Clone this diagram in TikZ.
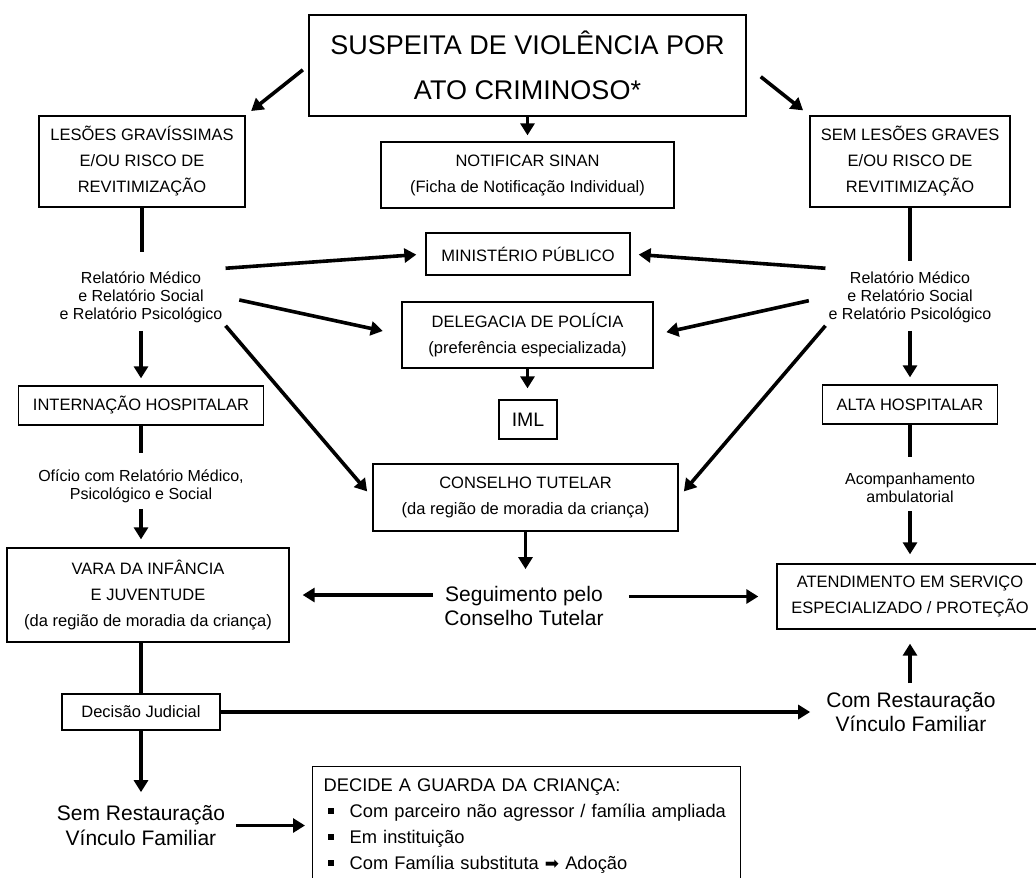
\documentclass[tikz,border=0pt]{standalone}
\usepackage{fontspec}
\setmainfont{Liberation Sans}
\newfontfamily\dejavu{DejaVu Sans}
\usepackage{tikz}
\usetikzlibrary{arrows.meta}
\newcommand{\boxfont}{\fontsize{16.5}{26}\selectfont}
\newcommand{\relfont}{\fontsize{16}{18}\selectfont}
\newcommand{\bigfont}{\fontsize{21}{24}\selectfont}
\newcommand{\sqbullet}{\hspace*{4pt}\raisebox{3.5pt}{\rule{6pt}{6pt}}\hspace{16pt}}
\tikzstyle{box}=[draw, line width=1.3pt, inner sep=0pt, align=center, font=\boxfont]
\tikzstyle{lbl}=[inner sep=3pt, align=center]
\tikzstyle{arr}=[line width=3.6pt, -{Triangle[length=12pt,width=14pt]}]
\tikzstyle{bar}=[line width=3.6pt]

\begin{document}
\begin{tikzpicture}
        [x=1pt,y=-1pt]
            \useasboundingbox (0,0) rectangle (1036,878);
            \clip (0,0) rectangle (1036,878);
            \node[box, minimum width=437pt, minimum height=101pt, font=\fontsize{27}{45}\selectfont] (susp) at (527.5,65.5) {SUSPEITA DE VIOLÊNCIA POR\\ATO CRIMINOSO*};
            \node[box, minimum width=206pt, minimum height=91pt] (grav) at (142,161.5) {LESÕES GRAVÍSSIMAS\\E/OU RISCO DE\\REVITIMIZAÇÃO};
            \node[box, minimum width=293pt, minimum height=66pt] (sinan) at (527.5,175) {NOTIFICAR SINAN\\(Ficha de Notificação Individual)};
            \node[box, minimum width=200pt, minimum height=91pt] (leve) at (910,161.5) {SEM LESÕES GRAVES\\E/OU RISCO DE\\REVITIMIZAÇÃO};
            \node[box, minimum width=204pt, minimum height=42pt] (mp) at (528,254) {MINISTÉRIO PÚBLICO};
            \node[box, minimum width=251pt, minimum height=66pt] (deleg) at (527.5,335) {DELEGACIA DE POLÍCIA\\(preferência especializada)};
            \node[box, minimum width=58pt, minimum height=39pt, font=\fontsize{19.5}{20}\selectfont] (iml) at (528,419.5) {IML};
            \node[box, minimum width=305pt, minimum height=67pt] (ct) at (525.5,497.5) {CONSELHO TUTELAR\\(da região de moradia da criança)};
            \node[lbl, font=\relfont] (relesq) at (141,297) {Relatório Médico\\e Relatório Social\\e Relatório Psicológico};
            \node[lbl, font=\relfont] (reldir) at (910,297) {Relatório Médico\\e Relatório Social\\e Relatório Psicológico};
            \node[box, minimum width=245pt, minimum height=39pt] (intern) at (141,405.5) {INTERNAÇÃO HOSPITALAR};
            \node[lbl, font=\relfont] (oficio) at (141,486) {Ofício com Relatório Médico,\\Psicológico e Social};
            \node[box, minimum width=282pt, minimum height=94pt] (vara) at (148,595) {VARA DA INFÂNCIA\\E JUVENTUDE\\(da região de moradia da criança)};
            \node[box, minimum width=175pt, minimum height=39pt] (alta) at (910,404.5) {ALTA HOSPITALAR};
            \node[lbl, font=\relfont] (acomp) at (910,488) {Acompanhamento\\ambulatorial};
            \node[box, minimum width=266pt, minimum height=65pt] (atend) at (910,596.5) {ATENDIMENTO EM SERVIÇO\\ESPECIALIZADO / PROTEÇÃO};
            \node[lbl, font=\bigfont] (segue) at (524,606) {Seguimento pelo\\Conselho Tutelar};
            \node[box, minimum width=158pt, minimum height=36pt] (decisao) at (141,712) {Decisão Judicial};
            \node[lbl, font=\bigfont] (comrest) at (911,712) {Com Restauração\\Vínculo Familiar};
            \node[lbl, font=\fontsize{21}{25}\selectfont] (semrest) at (141,825.5) {Sem Restauração\\Vínculo Familiar};
            \node[box, anchor=north west, text width=406pt, inner xsep=11pt, inner ysep=12pt, align=left, font=\fontsize{18.3}{26}\selectfont] (guarda) at (312,766) {DECIDE A GUARDA DA CRIANÇA:\\\sqbullet Com parceiro não agressor / família ampliada\\\sqbullet Em instituição\\\sqbullet Com Família substituta {\dejavu\fontsize{17}{17}\selectfont ➡} Adoção};
            \draw[arr, shorten <=7pt, shorten >=7pt] (susp.west) -- (grav.north east);
            \draw[arr, shorten <=18pt, shorten >=8pt] (susp.east) -- (leve.north west);
            \draw[arr, shorten >=6pt] (susp.south) -- (sinan.north);
            \draw[bar, shorten >=16pt] (grav.south) -- (grav.south |- relesq.north);
            \draw[bar, shorten >=7pt] (leve.south) -- (reldir.north);
            \draw[arr, shorten >=9pt] (relesq.north east) -- (mp.west);
            \draw[arr, shorten <=14pt, shorten >=19pt] (relesq.east) -- (deleg.west);
            \draw[arr, shorten >=8pt] (relesq.south east) -- (ct.west);
            \draw[arr, shorten >=8pt] (reldir.north west) -- (mp.east);
            \draw[arr, shorten <=17pt, shorten >=13pt] (reldir.west) -- (deleg.east);
            \draw[arr, shorten >=8pt] (reldir.south west) -- (ct.east);
            \draw[arr, shorten <=5pt, shorten >=7pt] (relesq.south) -- (intern.north);
            \draw[bar, shorten >=13pt] (intern.south) -- (oficio.north);
            \draw[arr, shorten <=3pt, shorten >=8pt] (oficio.south) -- (oficio.south |- vara.north);
            \draw[arr, shorten <=5pt, shorten >=7pt] (reldir.south) -- (alta.north);
            \draw[bar, shorten >=13pt] (alta.south) -- (acomp.north);
            \draw[arr, shorten <=5pt, shorten >=9pt] (acomp.south) -- (atend.north);
            \draw[arr, shorten >=11pt] (deleg.south) -- (deleg.south |- iml.north);
            \draw[arr, shorten >=14pt] (ct.south) -- (ct.south |- segue.north);
            \draw[arr, shorten <=8pt, shorten >=13pt] (vara.east -| segue.west) -- (vara.east);
            \draw[arr, shorten <=22pt, shorten >=18pt] (atend.west -| segue.east) -- (atend.west);
            \draw[bar] (decisao.north |- vara.south) -- (decisao.north);
            \draw[arr, shorten >=13pt] (decisao.east) -- (decisao.east -| comrest.west);
            \draw[arr, shorten <=6pt, shorten >=14pt] (atend.south |- comrest.north) -- (atend.south);
            \draw[arr, shorten >=10pt] (decisao.south) -- (decisao.south |- semrest.north);
            \draw[arr, shorten <=8pt, shorten >=7pt] (semrest.east) -- (semrest.east -| guarda.west);
        \end{tikzpicture}
\end{document}
